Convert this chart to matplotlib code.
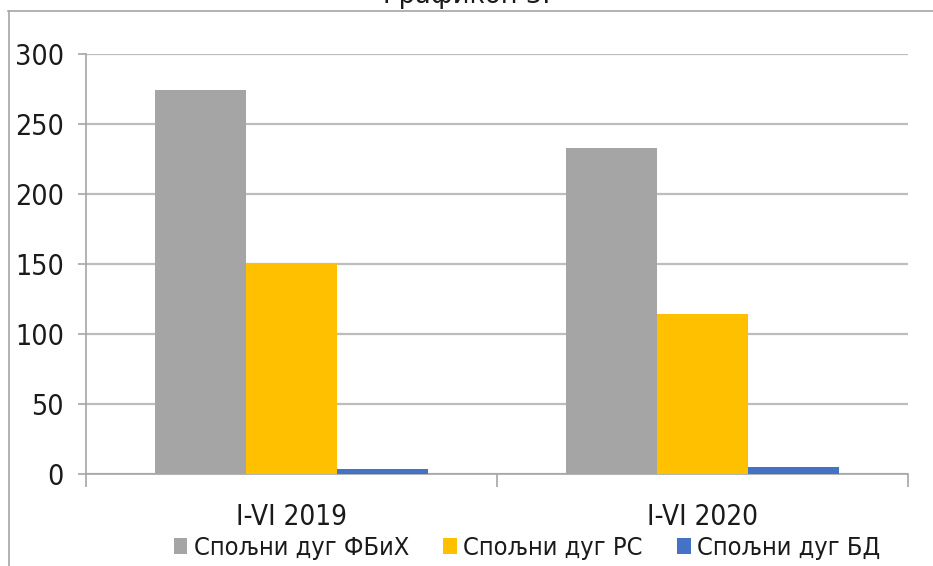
import matplotlib
matplotlib.use("Agg")
import matplotlib.pyplot as plt
from matplotlib.lines import Line2D
import numpy as np

# ---- data ----
categories = ["I-VI 2019", "I-VI 2020"]
series_names = ["Спољни дуг ФБиХ", "Спољни дуг РС", "Спољни дуг БД"]
fbih = [274, 232.5]
rs = [150.5, 114.5]
bd = [3.3, 4.8]
yticks = [0, 50, 100, 150, 200, 250, 300]
title = "Графикон 3."
colors = ["#A5A5A5", "#FFC000", "#4472C4"]

plt.rcParams['font.family'] = ['DejaVu Sans']
plt.rcParams['font.stretch'] = 'condensed'

W, H = 933, 566
fig = plt.figure(figsize=(W / 100, H / 100), dpi=100)

left, right, top, bottom = 86, 908, 54, 474
ax = fig.add_axes([left / W, 1 - bottom / H, (right - left) / W, (bottom - top) / H])

x = np.arange(len(categories))
bw = 0.2214
for i, (vals, c) in enumerate(zip([fbih, rs, bd], colors)):
    ax.bar(x + (i - 1) * bw, vals, width=bw, color=c, label=series_names[i], zorder=3)

ax.set_xlim(-0.5, 1.5)
ax.set_ylim(0, 300)
ax.set_yticks(yticks)
ax.grid(axis='y', color='#BDBDBD', linewidth=1.6, zorder=0)
for s in ['top', 'right']:
    ax.spines[s].set_visible(False)
for s in ['left', 'bottom']:
    ax.spines[s].set_color('#A6A6A6')
    ax.spines[s].set_linewidth(1.2)
ax.tick_params(axis='y', length=6, color='#A6A6A6', width=1.2, pad=10, labelsize=20.5,
               labelcolor='#1a1a1a')
ax.set_xticks([-0.5, 0.5, 1.5])
ax.set_xticklabels([])
ax.set_xticks(x, minor=True)
ax.set_xticklabels(categories, minor=True, fontsize=20, color='#1a1a1a')
ax.tick_params(axis='x', which='major', length=9, color='#A6A6A6', width=1.2)
ax.tick_params(axis='x', which='minor', length=0, pad=21)

leg = ax.legend(loc='center', bbox_to_anchor=(527 / W, 1 - 548 / H), bbox_transform=fig.transFigure,
                ncol=3, frameon=False, fontsize=18.2, handlelength=0.55, handleheight=0.55,
                handletextpad=0.25, columnspacing=1.35, borderaxespad=0)
for t in leg.get_texts():
    t.set_color('#1a1a1a')

# frame lines
fig.add_artist(Line2D([8.5 / W, 8.5 / W], [0, 1 - 11 / H], transform=fig.transFigure, color='#A6A6A6', lw=1.2))
fig.add_artist(Line2D([8 / W, 1], [1 - 11 / H, 1 - 11 / H], transform=fig.transFigure, color='#A6A6A6', lw=1.2))
fig.text(467 / W, 1 - 9 / H, title, ha='center', va='bottom', fontsize=18.5, fontstretch='normal',
         color='#1a1a1a')

fig.savefig("out.png", dpi=100)
